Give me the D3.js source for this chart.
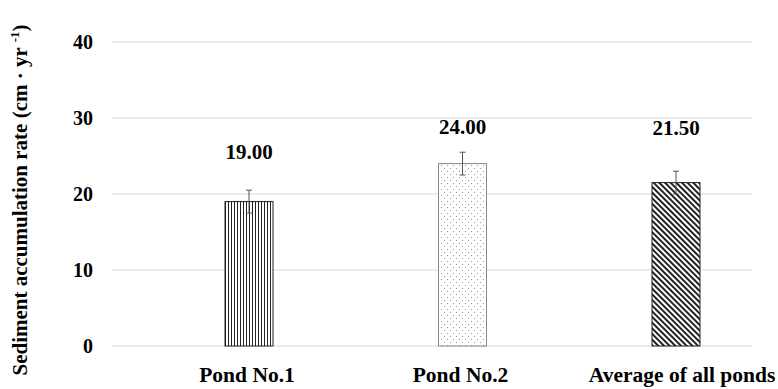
<!DOCTYPE html>
<html><head><meta charset="utf-8">
<script src="https://cdn.jsdelivr.net/npm/d3@7"></script>
<style>
body{margin:0;background:#fff;}
svg text{font-family:"Liberation Serif","Times New Roman",Tinos,serif !important;font-weight:bold;}
</style>
</head><body>
<svg id="c" width="778" height="389" font-family="Liberation Serif"></svg>
<script>
const categories = ["Pond No.1", "Pond No.2", "Average of all ponds"];
const values = [19.00, 24.00, 21.50];
const errors = [1.5, 1.5, 1.5];
const valueLabels = ["19.00", "24.00", "21.50"];
const yTicks = [0, 10, 20, 30, 40];

const svg = d3.select("#c");
const y = d3.scaleLinear().domain([0, 40]).range([346, 42]);
const x = d3.scalePoint().domain(categories).range([249, 676]);
const barW = 48;
const gridX0 = 112, gridX1 = 752;

// patterns
const defs = svg.append("defs");
const p1 = defs.append("pattern").attr("id","pv").attr("patternUnits","userSpaceOnUse").attr("width",3).attr("height",10);
p1.append("rect").attr("width",3).attr("height",10).attr("fill","#fff");
p1.append("rect").attr("x",0).attr("width",1).attr("height",10).attr("fill","#222");
const p2 = defs.append("pattern").attr("id","pd").attr("patternUnits","userSpaceOnUse").attr("width",6).attr("height",6);
p2.append("rect").attr("width",6).attr("height",6).attr("fill","#fff");
p2.append("rect").attr("x",0).attr("y",0).attr("width",1).attr("height",1).attr("fill","#999");
p2.append("rect").attr("x",3).attr("y",3).attr("width",1).attr("height",1).attr("fill","#999");
const p3 = defs.append("pattern").attr("id","pg").attr("patternUnits","userSpaceOnUse").attr("width",4).attr("height",4).attr("patternTransform","rotate(-45)");
p3.append("rect").attr("width",4).attr("height",4).attr("fill","#fff");
p3.append("rect").attr("x",0).attr("width",2).attr("height",4).attr("fill","#222");
const fills = ["url(#pv)","url(#pd)","url(#pg)"];
const strokes = ["#222","#888","#222"];

// gridlines
svg.append("g").selectAll("line").data(yTicks).join("line")
  .attr("x1",gridX0).attr("x2",gridX1).attr("y1",d=>y(d)).attr("y2",d=>y(d))
  .attr("stroke","#d9d9d9").attr("stroke-width",1);

// y axis labels
const yAxis = d3.axisLeft(y).tickValues(yTicks).tickSize(0).tickPadding(0);
const ga = svg.append("g").attr("transform","translate(93,0)").call(yAxis);
ga.select(".domain").remove();
ga.attr("font-family",null).attr("font-size",null);
ga.selectAll("text").style("font-size","20px").attr("fill","#000");

// bars
svg.append("g").selectAll("rect").data(values).join("rect")
  .attr("x",(d,i)=>x(categories[i])-barW/2).attr("width",barW)
  .attr("y",d=>y(d)).attr("height",d=>y(0)-y(d))
  .attr("fill",(d,i)=>fills[i]).attr("stroke",(d,i)=>strokes[i]).attr("stroke-width",1);

// error bars
const eg = svg.append("g").attr("stroke","#555").attr("stroke-width",1);
values.forEach((v,i)=>{
  const cx = x(categories[i]);
  eg.append("line").attr("x1",cx).attr("x2",cx).attr("y1",y(v+errors[i])).attr("y2",y(v-errors[i]));
  eg.append("line").attr("x1",cx-3).attr("x2",cx+3).attr("y1",y(v+errors[i])).attr("y2",y(v+errors[i]));
  eg.append("line").attr("x1",cx-3).attr("x2",cx+3).attr("y1",y(v-errors[i])).attr("y2",y(v-errors[i]));
});

// value labels
const labelDy = [43, 30, 48];
svg.append("g").selectAll("text").data(values).join("text")
  .attr("x",(d,i)=>x(categories[i])).attr("y",(d,i)=>y(d)-labelDy[i])
  .attr("text-anchor","middle").style("font-size","21px")
  .text((d,i)=>valueLabels[i]);

// category labels
svg.append("g").selectAll("text").data(categories).join("text")
  .attr("x",(d,i)=>x(d) + (i===2?6:-2)).attr("y",382)
  .attr("text-anchor","middle").style("font-size","21.5px")
  .text(d=>d);

// y title
const t = svg.append("text").attr("transform","translate(27,200) rotate(-90)")
  .attr("text-anchor","middle").style("font-size","21px");
t.append("tspan").text("Sediment accumulation rate (cm · yr ");
t.append("tspan").attr("dy",-8).style("font-size","13px").text("-1");
t.append("tspan").attr("dy",8).text(")");
</script>
</body></html>
